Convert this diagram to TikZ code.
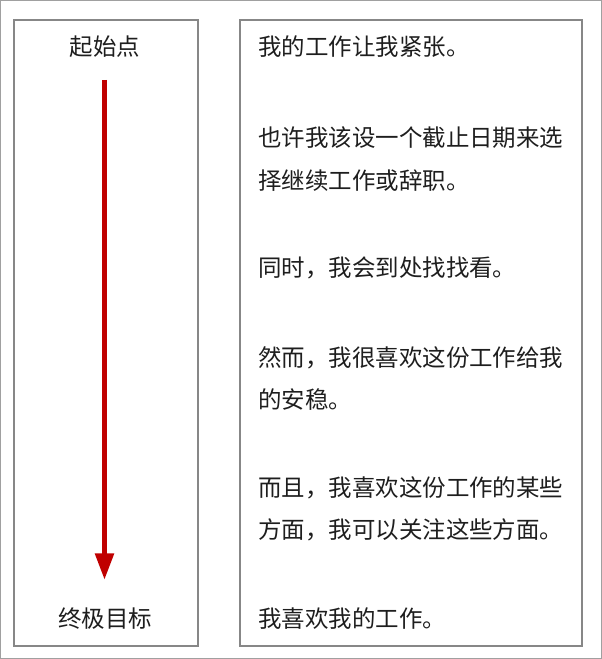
\documentclass[tikz,border=0pt]{standalone}
\usepackage{fontspec}
\setmainfont{Noto Sans CJK SC}
\usetikzlibrary{arrows.meta}
\definecolor{boxgray}{RGB}{135,135,135}
\definecolor{outergray}{RGB}{160,160,160}
\definecolor{arrowred}{RGB}{192,0,0}
\definecolor{txt}{RGB}{30,30,30}
\tikzset{
  panel/.style={draw=boxgray, line width=1.1pt},
  outer/.style={draw=outergray, line width=0.8pt},
  label/.style={inner sep=0pt, text=txt, font=\fontsize{17.6pt}{20pt}\selectfont},
  line/.style={label, anchor=west},
  bigarrow/.style={draw=arrowred, line width=4.1pt, -{Triangle[width=13.5pt,length=20pt]}, arrowred}
}
\begin{document}
\begin{tikzpicture}[x=0.75pt,y=-0.75pt]
\useasboundingbox (0,0) rectangle (602,659);
\draw[outer] (0.5,0.5) rectangle (601.5,658.5);
\draw[panel] (14,20) rectangle (198,646);
\draw[panel] (240,20) rectangle (582,646);
\node[label] (start) at (105,47) {起始点};
\node[label] (goal) at (105,619) {终极目标};
\coordinate (a1) at (104.5,80);
\coordinate (a2) at (104.5,580);
\draw[bigarrow] (a1) -- (a2);
\node[line] (l1) at (258,47) {我的工作让我紧张。};
\node[line] (l2) at (258,138) {也许我该设一个截止日期来选};
\node[line] (l3) at (258,181) {择继续工作或辞职。};
\node[line] (l4) at (258,268) {同时，我会到处找找看。};
\node[line] (l5) at (258,358) {然而，我很喜欢这份工作给我};
\node[line] (l6) at (258,400) {的安稳。};
\node[line] (l7) at (258,488) {而且，我喜欢这份工作的某些};
\node[line] (l8) at (258,530) {方面，我可以关注这些方面。};
\node[line] (l9) at (258,619) {我喜欢我的工作。};
\end{tikzpicture}
\end{document}
